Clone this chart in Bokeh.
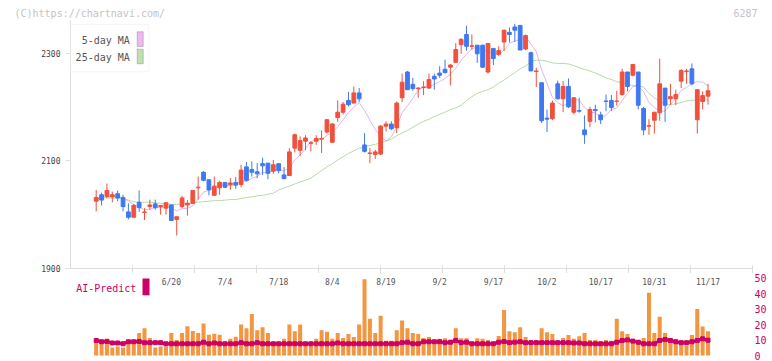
from bokeh.plotting import figure
from bokeh.layouts import column
from bokeh.models import Range1d, FixedTicker, Label, BoxAnnotation, ColumnDataSource
from bokeh.embed import file_html
from bokeh.resources import INLINE
from bokeh.core.properties import value

# ---------------- data ----------------
date_labels = ["6/20", "7/4", "7/18", "8/4", "8/19", "9/2", "9/17", "10/2", "10/17", "10/31", "11/17"]
date_index = [14, 24, 34, 44, 54, 64, 74, 84, 94, 104, 114]

opens = [2025, 2037, 2034, 2033, 2039, 2032, 2005, 1995, 2023, 2004,
         2015, 2020, 2015, 2012, 2018, 1991, 2015, 2018, 2021, 2050,
         2079, 2065, 2036, 2050, 2060, 2056, 2060, 2056, 2089, 2084,
         2080, 2095, 2096, 2081, 2095, 2074, 2073, 2124, 2120, 2137,
         2133, 2137, 2141, 2154, 2135, 2181, 2191, 2213, 2208, 2227,
         2130, 2114, 2112, 2113, 2165, 2169, 2162, 2218, 2266, 2243,
         2235, 2237, 2236, 2258, 2264, 2271, 2275, 2284, 2317, 2336,
         2314, 2316, 2316, 2266, 2310, 2299, 2322, 2340, 2350, 2353,
         2309, 2302, 2267, 2246, 2180, 2179, 2244, 2216, 2239, 2191,
         2194, 2158, 2174, 2196, 2186, 2212, 2213, 2211, 2224, 2266,
         2260, 2266, 2198, 2165, 2176, 2190, 2236, 2216, 2216, 2249,
         2267, 2272, 2177, 2211, 2221]
highs = [2046, 2041, 2058, 2043, 2045, 2037, 2021, 2020, 2045, 2012,
         2028, 2028, 2018, 2022, 2018, 1996, 2035, 2027, 2046, 2071,
         2081, 2065, 2071, 2063, 2060, 2068, 2070, 2093, 2098, 2099,
         2096, 2106, 2096, 2102, 2096, 2089, 2124, 2151, 2146, 2148,
         2137, 2148, 2157, 2178, 2171, 2213, 2210, 2229, 2239, 2236,
         2152, 2124, 2121, 2167, 2174, 2174, 2211, 2263, 2268, 2255,
         2238, 2249, 2263, 2263, 2277, 2289, 2281, 2320, 2329, 2352,
         2336, 2316, 2317, 2319, 2310, 2314, 2345, 2349, 2356, 2353,
         2336, 2304, 2274, 2246, 2196, 2213, 2250, 2249, 2254, 2218,
         2218, 2185, 2201, 2205, 2192, 2224, 2223, 2231, 2272, 2266,
         2280, 2266, 2201, 2178, 2191, 2291, 2236, 2244, 2233, 2271,
         2272, 2282, 2234, 2230, 2244]
lows = [2006, 2017, 2031, 2023, 2025, 2006, 1991, 1995, 2005, 1990,
        2009, 2009, 2000, 2000, 1989, 1961, 2012, 1998, 2020, 2028,
        2062, 2036, 2036, 2037, 2050, 2046, 2048, 2051, 2062, 2071,
        2068, 2074, 2066, 2076, 2077, 2067, 2073, 2116, 2109, 2120,
        2118, 2130, 2115, 2151, 2134, 2173, 2187, 2202, 2208, 2210,
        2116, 2096, 2104, 2111, 2155, 2158, 2152, 2210, 2233, 2231,
        2218, 2223, 2235, 2233, 2255, 2263, 2241, 2284, 2300, 2306,
        2308, 2283, 2274, 2263, 2279, 2296, 2305, 2321, 2322, 2307,
        2307, 2268, 2238, 2171, 2154, 2176, 2215, 2191, 2199, 2187,
        2190, 2132, 2163, 2172, 2169, 2193, 2193, 2203, 2222, 2230,
        2258, 2196, 2148, 2149, 2151, 2175, 2173, 2205, 2204, 2236,
        2244, 2241, 2151, 2196, 2205]
closes = [2032, 2027, 2045, 2037, 2031, 2015, 1995, 2017, 2013, 2005,
          2018, 2013, 2017, 2022, 1989, 1996, 2031, 2021, 2045, 2051,
          2064, 2046, 2053, 2060, 2051, 2059, 2055, 2083, 2064, 2079,
          2076, 2091, 2077, 2093, 2082, 2067, 2117, 2149, 2138, 2143,
          2134, 2142, 2142, 2177, 2169, 2191, 2206, 2205, 2227, 2216,
          2118, 2115, 2117, 2165, 2169, 2160, 2208, 2247, 2233, 2235,
          2236, 2238, 2252, 2253, 2260, 2265, 2279, 2308, 2327, 2314,
          2315, 2300, 2275, 2319, 2291, 2306, 2344, 2336, 2344, 2307,
          2334, 2268, 2268, 2175, 2178, 2208, 2216, 2239, 2201, 2218,
          2193, 2149, 2196, 2194, 2177, 2211, 2200, 2212, 2266, 2239,
          2280, 2204, 2158, 2166, 2191, 2244, 2204, 2220, 2224, 2269,
          2268, 2244, 2233, 2222, 2231]
ma5 = [2030, 2031, 2033, 2034, 2034, 2031, 2025, 2019, 2014, 2009,
       2010, 2013, 2013, 2015, 2012, 2007, 2011, 2012, 2016, 2029,
       2042, 2045, 2052, 2055, 2055, 2054, 2056, 2062, 2062, 2068,
       2071, 2079, 2077, 2083, 2084, 2082, 2087, 2102, 2111, 2123,
       2136, 2141, 2140, 2148, 2153, 2164, 2177, 2190, 2200, 2209,
       2194, 2176, 2159, 2146, 2137, 2145, 2164, 2190, 2203, 2217,
       2232, 2238, 2239, 2243, 2248, 2254, 2262, 2273, 2288, 2299,
       2309, 2313, 2306, 2305, 2300, 2298, 2307, 2319, 2324, 2327,
       2333, 2318, 2304, 2270, 2245, 2219, 2209, 2203, 2208, 2216,
       2213, 2200, 2191, 2190, 2182, 2185, 2196, 2199, 2213, 2226,
       2239, 2240, 2229, 2209, 2200, 2193, 2193, 2205, 2217, 2232,
       2237, 2245, 2248, 2247, 2240]
ma25 = [2031, 2031, 2031, 2031, 2031, 2030, 2027, 2024, 2023, 2023,
        2023, 2022, 2021, 2020, 2019, 2019, 2020, 2021, 2022, 2023,
        2024, 2025, 2026, 2026, 2027, 2028, 2028, 2030, 2032, 2033,
        2035, 2036, 2038, 2040, 2046, 2050, 2053, 2057, 2061, 2064,
        2068, 2075, 2082, 2089, 2095, 2102, 2108, 2114, 2119, 2124,
        2126, 2129, 2131, 2134, 2137, 2141, 2147, 2152, 2157, 2163,
        2169, 2174, 2178, 2183, 2187, 2191, 2196, 2199, 2204, 2213,
        2220, 2226, 2230, 2233, 2238, 2245, 2251, 2258, 2265, 2272,
        2277, 2286, 2288, 2288, 2286, 2283, 2282, 2282, 2281, 2278,
        2274, 2271, 2268, 2264, 2260, 2255, 2252, 2248, 2246, 2243,
        2241, 2240, 2238, 2226, 2218, 2211, 2207, 2205, 2207, 2209,
        2212, 2213, 2214, 2214, 2214]
volume = [8.9, 8.9, 10.8, 5.2, 5.8, 5.2, 10.1, 9.5, 14.5, 17.6,
          11.4, 5.2, 5.8, 5.8, 14.5, 10.1, 14.5, 19.0, 15.9, 14.5,
          20.7, 13.5, 14.1, 13.5, 8.3, 10.8, 12.2, 20.1, 17.6, 26.9,
          16.4, 18.2, 14.5, 8.3, 8.3, 10.8, 20.1, 15.7, 20.1, 7.2,
          8.3, 10.8, 16.4, 15.3, 10.8, 14.5, 11.4, 13.9, 12.0, 20.1,
          49.3, 23.8, 14.5, 25.7, 9.5, 9.5, 16.4, 22.6, 17.6, 14.5,
          13.9, 11.4, 12.0, 8.3, 10.8, 11.2, 10.1, 17.6, 11.2, 11.2,
          8.3, 11.2, 10.8, 10.1, 6.8, 12.6, 29.4, 15.7, 15.1, 18.2,
          12.0, 10.1, 10.1, 17.6, 15.1, 13.9, 8.9, 11.4, 13.2, 10.8,
          12.4, 14.5, 10.1, 10.1, 8.9, 10.1, 9.5, 23.8, 15.7, 13.9,
          10.1, 10.1, 11.4, 40.6, 14.5, 25.0, 14.5, 10.1, 8.9, 8.9,
          6.4, 13.2, 30.0, 18.8, 15.7]
ai_predict = [9.7, 8.9, 9.1, 8.1, 8.1, 7.6, 8.9, 8.9, 9.1, 8.3,
              8.3, 8.3, 8.3, 7.6, 7.6, 7.6, 7.6, 7.6, 7.6, 7.6,
              8.6, 7.6, 8.1, 7.6, 7.6, 7.6, 7.6, 8.3, 7.6, 7.6,
              8.3, 7.6, 7.6, 7.6, 7.6, 7.6, 7.6, 7.6, 7.6, 7.6,
              7.6, 7.6, 7.6, 7.6, 7.6, 8.1, 7.6, 7.6, 7.6, 7.6,
              7.6, 7.6, 7.6, 7.6, 7.6, 7.6, 7.6, 8.3, 8.6, 7.6,
              7.6, 8.9, 8.9, 8.9, 8.9, 8.3, 8.6, 9.7, 8.3, 8.6,
              7.6, 7.6, 7.6, 7.6, 7.6, 8.6, 9.1, 8.3, 8.6, 8.9,
              8.3, 8.3, 8.3, 8.3, 8.3, 8.3, 8.3, 8.3, 8.3, 8.1,
              8.1, 7.6, 7.6, 7.6, 7.6, 7.6, 7.6, 8.6, 9.7, 10.1,
              9.3, 8.6, 7.6, 7.6, 7.6, 9.7, 10.3, 9.7, 8.9, 8.3,
              8.3, 8.9, 9.7, 10.8, 9.9]
price_ticks = [1900, 2100, 2300]
volume_ticks = [0, 10, 20, 30, 40, 50]

# ---------------- styling constants ----------------
RED = "#f0503c"
BLUE = "#3f78f0"
ORANGE = "#f29642"
MAGENTA = "#cc0066"
MA5_COLOR = "#e6b3ea"
MA25_COLOR = "#b7dba6"
AXIS_GRAY = "#dddddd"
MONO = "DejaVu Sans Mono"

W = 772
X0, X1 = -4.789, 122.29        # index range of the frame (70px .. 752px)
Y0, Y1 = 1899.44, 2362.1       # price range of the frame

n = len(closes)
idx = list(range(n))
up = [c >= o for o, c in zip(opens, closes)]
src = ColumnDataSource(dict(
    x=idx, open=opens, high=highs, low=lows, close=closes,
    top=[max(o, c) for o, c in zip(opens, closes)],
    bottom=[min(o, c) for o, c in zip(opens, closes)],
    color=[RED if u else BLUE for u in up],
    ma5=ma5, ma25=ma25, vol=volume, ai=ai_predict,
))

# ---------------- header strip (copyright / code) ----------------
h = figure(width=W, height=20, x_range=Range1d(0, W), y_range=Range1d(20, 0),
           output_backend="svg", toolbar_location=None,
           min_border_left=0, min_border_right=0, min_border_top=0, min_border_bottom=0,
           x_axis_location=None, y_axis_location=None)
h.frame_align = False
h.outline_line_color = None
h.grid.visible = False
h.text(x=[14], y=[12.5], text=["(C)https://chartnavi.com/"], text_font=value(MONO),
       text_font_size="10px", text_color="#c4c4c4", text_baseline="middle", text_align="left")
h.text(x=[757], y=[12.5], text=["6287"], text_font=value(MONO),
       text_font_size="10px", text_color="#c4c4c4", text_baseline="middle", text_align="right")

# ---------------- price panel ----------------
p = figure(width=W, height=253, x_range=Range1d(X0, X1), y_range=Range1d(Y0, Y1),
           output_backend="svg", toolbar_location=None,
           min_border_left=70, min_border_right=20, min_border_top=0, min_border_bottom=5)
p.outline_line_color = None
p.grid.visible = False

p.yaxis.ticker = FixedTicker(ticks=price_ticks)
p.yaxis.axis_line_color = AXIS_GRAY
p.yaxis.major_tick_line_color = AXIS_GRAY
p.yaxis.major_tick_out = 5
p.yaxis.major_tick_in = 0
p.yaxis.minor_tick_line_color = None
p.yaxis.major_label_text_font = MONO
p.yaxis.major_label_text_font_size = "8px"
p.yaxis.major_label_text_color = "#444444"
p.yaxis.major_label_standoff = 5

grid_ticks = [X0 + k * (X1 - X0) / 11 for k in range(1, 11)] + [X1 - 1e-6]
p.xaxis.ticker = FixedTicker(ticks=[], minor_ticks=grid_ticks)
p.xaxis.axis_line_color = AXIS_GRAY
p.xaxis.major_tick_line_color = None
p.xaxis.minor_tick_line_color = AXIS_GRAY
p.xaxis.minor_tick_in = 3
p.xaxis.minor_tick_out = 5
p.xaxis.major_label_standoff = 0

p.line("x", "ma25", source=src, color=MA25_COLOR, line_width=1)
p.line("x", "ma5", source=src, color=MA5_COLOR, line_width=1)
p.segment(x0="x", y0="low", x1="x", y1="high", source=src, color="color", line_width=1)
p.vbar(x="x", width=0.7, top="top", bottom="bottom", source=src,
       fill_color="color", line_color="color", line_width=1)

# legend box (manual, swatches on the right)
p.add_layout(BoxAnnotation(left=X0, right=9.8, bottom=2266.5, top=2354.7,
                           fill_color="white", fill_alpha=1, line_color=AXIS_GRAY, line_width=1))
p.add_layout(BoxAnnotation(left=7.64, right=8.76, bottom=2313.7, top=2341.1,
                           fill_color="#f0b8f0", fill_alpha=1, line_color="#555555", line_width=1))
p.add_layout(BoxAnnotation(left=7.64, right=8.76, bottom=2281.4, top=2308.6,
                           fill_color="#c0e0b0", fill_alpha=1, line_color="#555555", line_width=1))
p.add_layout(Label(x=6.26, y=2324.9, text="5-day MA", text_font=MONO, text_font_size="10px",
                   text_color="#555555", text_align="right", text_baseline="middle"))
p.add_layout(Label(x=6.26, y=2293.7, text="25-day MA", text_font=MONO, text_font_size="10px",
                   text_color="#555555", text_align="right", text_baseline="middle"))

# ---------------- volume panel ----------------
VY0, VY1 = -3.88, 53.04
v = figure(width=W, height=88, x_range=p.x_range, y_range=Range1d(VY0, VY1),
           output_backend="svg", toolbar_location=None,
           min_border_left=70, min_border_right=20, min_border_top=0, min_border_bottom=0,
           x_axis_location=None, y_axis_location="right")
v.outline_line_color = None
v.grid.visible = False
v.yaxis.ticker = FixedTicker(ticks=volume_ticks)
v.yaxis.axis_line_color = None
v.yaxis.major_tick_line_color = None
v.yaxis.minor_tick_line_color = None
v.yaxis.major_tick_out = 0
v.yaxis.major_tick_in = 0
v.yaxis.major_label_standoff = 2
v.yaxis.major_label_text_font = MONO
v.yaxis.major_label_text_font_size = "10px"
v.yaxis.major_label_text_color = MAGENTA

v.vbar(x="x", width=0.75, top="vol", bottom=0, source=src, fill_color=ORANGE, line_color=None)
v.line("x", "ai", source=src, color=MAGENTA, line_width=3)
v.scatter("x", "ai", source=src, marker="square", size=4, color=MAGENTA)

v.text(x=date_index, y=47.5, text=date_labels, text_font=value(MONO), text_font_size="8px",
       text_color="#555555", text_align="center", text_baseline="middle")
v.add_layout(Label(x=-3.73, y=43.6, text="AI-Predict", text_font=MONO, text_font_size="10px",
                   text_color=MAGENTA, text_align="left", text_baseline="middle"))
v.add_layout(BoxAnnotation(left=8.63, right=9.93, bottom=38.9, top=49.8,
                           fill_color=MAGENTA, fill_alpha=1, line_color=None))

layout = column(h, p, v)
open("out.html", "w").write(file_html(layout, INLINE))
